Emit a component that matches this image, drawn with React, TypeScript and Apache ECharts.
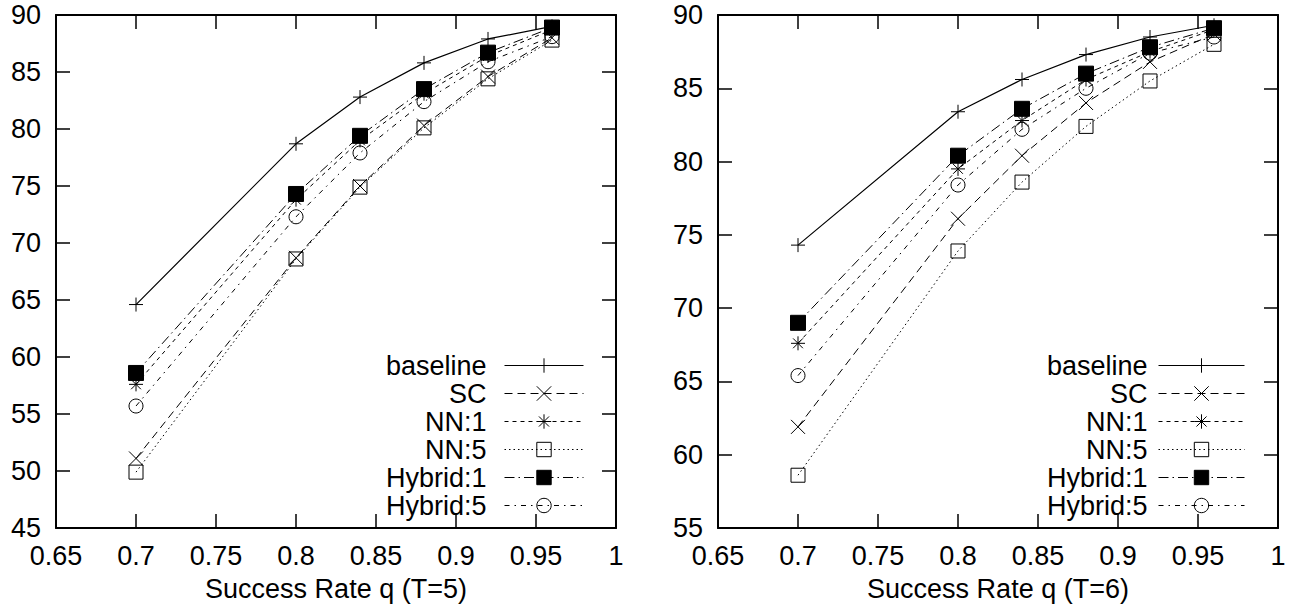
import React, { useEffect, useRef } from 'react';
import * as echarts from 'echarts';

// ---- data ----
const qValues = [0.7, 0.8, 0.84, 0.88, 0.92, 0.96];
const seriesNames = ['baseline', 'SC', 'NN:1', 'NN:5', 'Hybrid:1', 'Hybrid:5'];

// T = 5
const t5Baseline = [64.6, 78.7, 82.8, 85.8, 87.9, 89.0];
const t5SC = [51.1, 68.7, 75.0, 80.3, 84.6, 88.0];
const t5NN1 = [57.6, 73.8, 79.0, 83.1, 86.4, 88.7];
const t5NN5 = [49.9, 68.6, 74.9, 80.1, 84.4, 87.8];
const t5Hybrid1 = [58.6, 74.3, 79.4, 83.5, 86.7, 88.9];
const t5Hybrid5 = [55.7, 72.3, 77.9, 82.4, 85.9, 88.1];

// T = 6
const t6Baseline = [74.3, 83.4, 85.6, 87.3, 88.5, 89.3];
const t6SC = [61.9, 76.1, 80.4, 84.0, 86.8, 88.7];
const t6NN1 = [67.6, 79.5, 82.8, 85.6, 87.5, 89.0];
const t6NN5 = [58.6, 73.9, 78.6, 82.4, 85.5, 88.0];
const t6Hybrid1 = [69.0, 80.4, 83.6, 86.0, 87.8, 89.1];
const t6Hybrid5 = [65.4, 78.4, 82.2, 85.0, 87.4, 88.5];

const xMin = 0.65;
const xMax = 1;
const xStep = 0.05;
const yStep = 5;
const t5YMin = 45;
const t6YMin = 55;
const yMax = 90;
const xTitles = ['Success Rate q (T=5)', 'Success Rate q (T=6)'];

// ---- styles ----
const FONT = '"Liberation Sans", Arial, Helvetica, sans-serif';
const PLUS = 'path://M0,5L10,5M5,0L5,10';
const CROSS = 'path://M0,0L10,10M0,10L10,0';
const STAR = 'path://M0,5L10,5M5,0L5,10M1.5,1.5L8.5,8.5M1.5,8.5L8.5,1.5';

const styles: Record<string, any> = {
  baseline: { symbol: PLUS, size: 14, fill: 'transparent', dash: 'solid', width: 1.2 },
  SC: { symbol: CROSS, size: 14, fill: 'transparent', dash: [8, 5], width: 1 },
  'NN:1': { symbol: STAR, size: 14, fill: 'transparent', dash: [4, 4], width: 1 },
  'NN:5': { symbol: 'rect', size: 14, fill: 'transparent', dash: [1.5, 3], width: 1 },
  'Hybrid:1': { symbol: 'rect', size: 15, fill: '#000', dash: [10, 4, 1.5, 4], width: 1 },
  'Hybrid:5': { symbol: 'circle', size: 14, fill: 'transparent', dash: [5, 5, 1.5, 5], width: 1 },
};

const t5Data = [t5Baseline, t5SC, t5NN1, t5NN5, t5Hybrid1, t5Hybrid5];
const t6Data = [t6Baseline, t6SC, t6NN1, t6NN5, t6Hybrid1, t6Hybrid5];

function fmt(v: number) {
  return String(Number(v.toFixed(2)));
}

function xAxes(grid: number, title: string) {
  const common = {
    type: 'value',
    gridIndex: grid,
    min: xMin,
    max: xMax,
    interval: xStep,
    splitLine: { show: false },
    axisLine: { show: true, onZero: false, lineStyle: { color: '#000', width: 2 } },
    axisTick: { show: true, inside: true, length: 14, lineStyle: { color: '#000', width: 1.5 } },
  };
  return [
    {
      ...common,
      position: 'bottom',
      axisLabel: { show: true, color: '#000', fontSize: 27, fontFamily: FONT, margin: 14, formatter: fmt },
      name: title,
      nameLocation: 'middle',
      nameGap: 47,
      nameTextStyle: { color: '#000', fontSize: 27, fontFamily: FONT },
    },
    { ...common, position: 'top', axisLabel: { show: false } },
  ];
}

function yAxes(grid: number, min: number) {
  const common = {
    type: 'value',
    gridIndex: grid,
    min,
    max: yMax,
    interval: yStep,
    splitLine: { show: false },
    axisLine: { show: true, onZero: false, lineStyle: { color: '#000', width: 2 } },
    axisTick: { show: true, inside: true, length: 14, lineStyle: { color: '#000', width: 1.5 } },
  };
  return [
    {
      ...common,
      position: 'left',
      axisLabel: { show: true, color: '#000', fontSize: 27, fontFamily: FONT, margin: 15 },
    },
    { ...common, position: 'right', axisLabel: { show: false } },
  ];
}

function buildSeries(data: number[][], xi: number, yi: number) {
  return seriesNames.map((name, k) => {
    const s = styles[name];
    return {
      type: 'line',
      name,
      xAxisIndex: xi,
      yAxisIndex: yi,
      data: qValues.map((q, i) => [q, data[k][i]]),
      symbol: s.symbol,
      symbolSize: s.size,
      showAllSymbol: true,
      lineStyle: { color: '#000', width: s.width, type: s.dash },
      itemStyle: { color: s.fill, borderColor: '#000', borderWidth: 1 },
      emphasis: { disabled: true },
      silent: true,
    };
  });
}

function legend(right: number, itemWidth: number, padRight: number) {
  return {
    orient: 'vertical',
    right,
    top: 352,
    align: 'right',
    padding: 0,
    itemWidth,
    itemHeight: 18,
    itemGap: 1,
    selectedMode: false,
    data: seriesNames,
    lineStyle: { width: 1 },
    itemStyle: { borderWidth: 1 },
    textStyle: {
      color: '#000',
      fontSize: 27,
      fontFamily: FONT,
      padding: [0, padRight, 0, 0],
    },
  };
}

export default function App() {
  const ref = useRef<HTMLDivElement>(null);
  useEffect(() => {
    if (!ref.current) return;
    const chart = echarts.init(ref.current, undefined, { renderer: 'svg' });
    chart.setOption({
      animation: false,
      backgroundColor: '#fff',
      textStyle: { fontFamily: FONT },
      grid: [
        { left: 56, top: 15, width: 560, height: 513 },
        { left: 718, top: 15, width: 560, height: 513 },
      ],
      xAxis: [...xAxes(0, xTitles[0]), ...xAxes(1, xTitles[1])],
      yAxis: [...yAxes(0, t5YMin), ...yAxes(1, t6YMin)],
      legend: [legend(707, 79, 13), legend(46, 86, 6)],
      series: [...buildSeries(t5Data, 0, 0), ...buildSeries(t6Data, 2, 2)],
    });
    return () => chart.dispose();
  }, []);
  return (
    <div
      ref={ref}
      style={{ position: 'fixed', left: 0, top: 0, width: 1291, height: 612, background: '#fff' }}
    />
  );
}
